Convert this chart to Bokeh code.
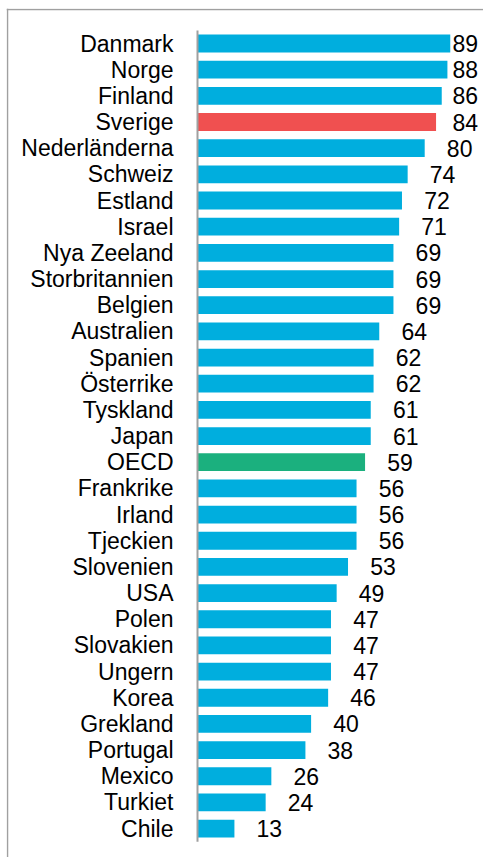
from bokeh.plotting import figure
from bokeh.models import Range1d, ColumnDataSource, Span
from bokeh.core.properties import value
from bokeh.embed import file_html
from bokeh.resources import INLINE

countries = ["Danmark", "Norge", "Finland", "Sverige", "Nederländerna", "Schweiz",
             "Estland", "Israel", "Nya Zeeland", "Storbritannien", "Belgien",
             "Australien", "Spanien", "Österrike", "Tyskland", "Japan", "OECD",
             "Frankrike", "Irland", "Tjeckien", "Slovenien", "USA", "Polen",
             "Slovakien", "Ungern", "Korea", "Grekland", "Portugal", "Mexico",
             "Turkiet", "Chile"]
values = [89, 88, 86, 84, 80, 74, 72, 71, 69, 69, 69, 64, 62, 62, 61, 61, 59,
          56, 56, 56, 53, 49, 47, 47, 47, 46, 40, 38, 26, 24, 13]

BLUE = "#00AEDE"
RED = "#F05050"
GREEN = "#1BB07E"
highlight = {"Sverige": RED, "OECD": GREEN}

n = len(countries)
idx = list(range(n))
colors = [highlight.get(c, BLUE) for c in countries]
label_x = [min(v + 7.8, 89.8) for v in values]

src = ColumnDataSource(dict(y=idx, v=values, c=colors, name=countries,
                            lx=label_x, txt=[str(v) for v in values]))

W, H = 483, 857
BL, BT = 6, 8
FW, FH = W - BL, H - BT
px_per_unit = 2.84
zero_px = 191
x0 = -zero_px / px_per_unit
x1 = x0 + FW / px_per_unit
row_px = 26.17
top_px = 35
y_top = -top_px / row_px
y_bot = y_top + FH / row_px

p = figure(width=W, height=H, output_backend="svg", toolbar_location=None,
           x_range=Range1d(x0, x1), y_range=Range1d(y_bot, y_top),
           min_border_left=BL, min_border_top=BT, min_border_right=0, min_border_bottom=0)
p.axis.visible = False
p.grid.visible = False
p.outline_line_color = None
p.background_fill_color = "white"

# frame lines (top and left only; right/bottom fall outside the view)
p.add_layout(Span(location=x0 + 1.0 / px_per_unit, dimension="height",
                  line_color="#A0A0A0", line_width=1.5))
p.add_layout(Span(location=y_top + 1.0 / row_px, dimension="width",
                  line_color="#A0A0A0", line_width=1.5))

p.hbar(y="y", left=0, right="v", height=0.68, fill_color="c", line_color=None, source=src)
p.segment(x0=0, y0=-0.5, x1=0, y1=n - 0.5, line_color="#A0A0A0", line_width=2)

font = value("Liberation Sans")
p.text(x=0, y="y", text="name", x_offset=-24, text_align="right", text_baseline="middle",
       text_font=font, text_font_size="23px", text_color="black", source=src)
p.text(x="lx", y="y", text="txt", text_align="left", text_baseline="middle",
       text_font=font, text_font_size="23px", text_color="black", source=src)

open("out.html", "w").write(file_html(p, INLINE))
